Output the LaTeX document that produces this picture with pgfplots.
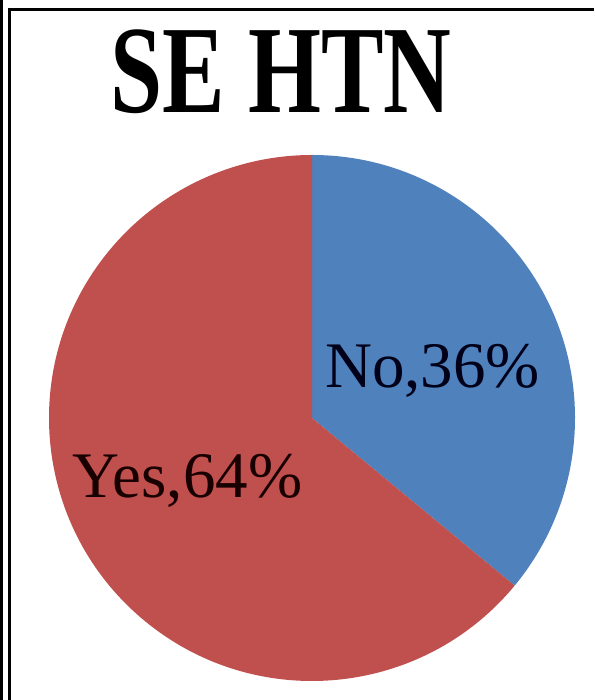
\documentclass[border=0pt]{standalone}
\usepackage{pgfplots}
\usepackage{pgfplotstable}
\pgfplotsset{compat=1.18}
\usepackage{fontspec}
\setmainfont{Liberation Serif}
\definecolor{pieblue}{HTML}{4F81BD}
\definecolor{piered}{HTML}{C0504D}
\pgfplotstableread{
label value
No 36
Yes 64
}\piedata
\pgfplotstablegetelem{0}{value}\of\piedata
\let\vNo\pgfplotsretval
\pgfplotstablegetelem{1}{value}\of\piedata
\let\vYes\pgfplotsretval
\begin{document}
\begin{tikzpicture}
\pgfmathsetmacro{\aEnd}{90-\vNo*3.6}
\pgfmathsetmacro{\bEnd}{\aEnd-\vYes*3.6}
\begin{axis}[
  scale only axis, width=594pt, height=700pt,
  xmin=0, xmax=594, ymin=0, ymax=700,
  hide axis, clip=false, anchor=south west, at={(0,0)},
]
\fill[pieblue] (axis cs:312,282) -- (axis cs:312,545) arc[start angle=90, end angle=\aEnd, radius=263pt] -- cycle;
\fill[piered] (axis cs:312,282) -- ++(\aEnd:263pt) arc[start angle=\aEnd, end angle=\bEnd, radius=263pt] -- cycle;
\node[anchor=base, xscale=0.75, inner sep=0pt] at (axis cs:281,587) {\fontsize{125}{130}\selectfont\bfseries SE HTN};
\node[anchor=base west, inner sep=0pt, text=black!90!blue] at (axis cs:325,312) {\fontsize{65}{70}\selectfont No,\vNo\%};
\node[anchor=base west, inner sep=0pt, text=black!90!red] at (axis cs:72,202) {\fontsize{65}{70}\selectfont Yes,\vYes\%};
\draw[line width=3pt] (axis cs:1.5,0) -- (axis cs:1.5,700);
\draw[line width=3pt] (axis cs:9,0) -- (axis cs:9,690) -- (axis cs:594,690);
\end{axis}
\pgfresetboundingbox
\useasboundingbox (0,0) rectangle (594pt,700pt);
\end{tikzpicture}
\end{document}
